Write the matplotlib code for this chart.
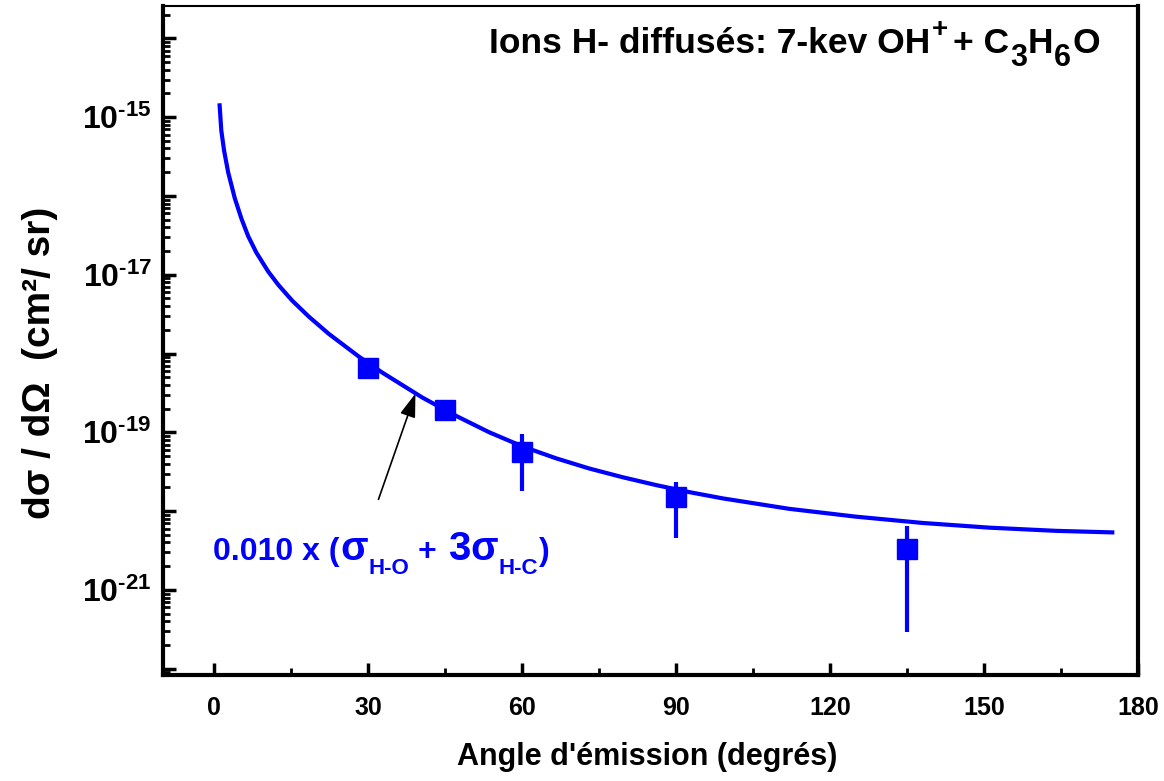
import numpy as np
import matplotlib
matplotlib.use("Agg")
import matplotlib.pyplot as plt
import matplotlib.transforms as mtransforms
from matplotlib.ticker import FixedLocator, NullFormatter, FuncFormatter

plt.rcParams['font.family'] = ['Liberation Sans', 'DejaVu Sans']
plt.rcParams['font.weight'] = 'bold'
plt.rcParams['mathtext.fontset'] = 'custom'
plt.rcParams['mathtext.rm'] = 'Liberation Sans:bold'
plt.rcParams['mathtext.bf'] = 'Liberation Sans:bold'
plt.rcParams['mathtext.it'] = 'Liberation Sans:bold'
plt.rcParams['mathtext.sf'] = 'Liberation Sans:bold'

# measured points (H- ions scattered)
angles = [30, 45, 60, 90, 135]
dsig = [6.6e-19, 1.9e-19, 5.6e-20, 1.5e-20, 3.3e-21]
err_low = [6.6e-19, 1.9e-19, 1.78e-20, 4.6e-21, 2.95e-22]
err_high = [6.6e-19, 1.9e-19, 9.5e-20, 2.35e-20, 6.4e-21]

# theory curve 0.010 x (sigma_H-O + 3 sigma_H-C)
curve_x = [1.04, 1.37, 1.9, 2.7, 4.0, 5.3, 6.6, 8.2, 10.5, 12.5, 15.2, 18.4,
           22.3, 28.2, 32.7, 40.6, 47.1, 53.6, 60.1, 66.6, 73.1, 79.6, 86.1,
           92.6, 99.1, 112, 125, 138, 151, 164, 175]
curve_y = [1.41e-15, 6.76e-16, 3.80e-16, 2.00e-16, 9.33e-17, 5.13e-17,
           3.09e-17, 1.91e-17, 1.10e-17, 7.41e-18, 4.68e-18, 2.95e-18,
           1.78e-18, 9.12e-19, 5.75e-19, 2.75e-19, 1.62e-19, 1.00e-19,
           6.61e-20, 4.68e-20, 3.47e-20, 2.69e-20, 2.14e-20, 1.74e-20,
           1.45e-20, 1.07e-20, 8.51e-21, 7.08e-21, 6.17e-21, 5.62e-21,
           5.37e-21]

xticks = [0, 30, 60, 90, 120, 150, 180]
decades = [1e-22, 1e-21, 1e-20, 1e-19, 1e-18, 1e-17, 1e-16, 1e-15, 1e-14]
blue = '#0000ff'

fig = plt.figure(figsize=(11.64, 7.81), dpi=100)
ax = fig.add_axes([0.140, 0.1357, 0.8376, 0.8566])

ax.plot(curve_x, curve_y, color=blue, lw=3, solid_joinstyle='round')
yerr = [np.array(dsig) - np.array(err_low), np.array(err_high) - np.array(dsig)]
ax.errorbar(angles, dsig, yerr=yerr, fmt='s', color=blue, ms=14,
            elinewidth=3, capsize=0)

ax.set_yscale('log')
ax.set_xlim(-10, 180)
ax.set_ylim(10**-22.08, 10**-13.59)

ax.xaxis.set_major_locator(FixedLocator(xticks))
ax.xaxis.set_minor_locator(FixedLocator([15, 45, 75, 105, 135, 165]))
ax.yaxis.set_major_locator(FixedLocator(decades))
minors = [m * d for d in [1e-23] + decades for m in range(2, 10)]
minors = [v for v in minors if 10**-22.08 < v < 10**-13.59]
ax.yaxis.set_minor_locator(FixedLocator(minors))
ax.yaxis.set_minor_formatter(NullFormatter())


def ylab(v, pos):
    e = int(round(np.log10(v)))
    if e % 2 == 0:
        return ''
    return r'$\mathbf{10^{\text{%d}}}$' % e


ax.yaxis.set_major_formatter(FuncFormatter(ylab))
ax.tick_params(axis='y', which='major', direction='in', length=9, width=2.5,
               labelsize=23, pad=8, right=False)
ax.tick_params(axis='y', which='minor', direction='in', length=5, width=2)
ax.tick_params(axis='x', which='major', direction='in', length=9, width=2.5,
               labelsize=18, pad=15, top=False)
ax.tick_params(axis='x', which='minor', direction='in', length=5, width=2)
for lab in ax.get_xticklabels():
    lab.set_fontweight('bold')

for s in ['left', 'bottom', 'right']:
    ax.spines[s].set_linewidth(3)
ax.spines['top'].set_linewidth(1.5)

ax.set_xlabel("Angle d'émission (degrés)", fontsize=22, fontweight='bold')
ax.xaxis.set_label_coords(0.497, -0.100)
ax.xaxis.label.set_va('top')
ax.set_ylabel('dσ / dΩ  (cm²/ sr)', fontsize=28, fontweight='bold')
ax.yaxis.set_label_coords(-0.108, 0.466)

renderer = fig.canvas.get_renderer()


def chain(x0, y0, pieces, color, right=False):
    # pieces: (text, fontsize, dy in px, gap before in px)
    widths = []
    for s, size, dy, gap in pieces:
        t = ax.text(0, 0, s, fontsize=size, fontweight='bold')
        widths.append(t.get_window_extent(renderer).width)
        t.remove()
    total = sum(widths) + sum(p[3] for p in pieces)
    dx = -total if right else 0
    for (s, size, dy, gap), w in zip(pieces, widths):
        dx += gap
        tr = mtransforms.offset_copy(ax.transAxes, fig=fig, x=dx, y=dy, units='dots')
        ax.text(x0, y0, s, transform=tr, fontsize=size, fontweight='bold',
                color=color, ha='left', va='baseline')
        dx += w


title_parts = [('Ions H- diffusés: 7-kev OH', 25.5, 0, 0), ('+', 20, 16, 1),
               ('+ C', 25.5, 0, 5), ('3', 22, -13, 1), ('H', 25.5, 0, 1),
               ('6', 22, -13, 1), ('O', 25.5, 0, 1)]
chain(0.961, 0.930, title_parts, 'black', right=True)

formula_parts = [('0.010 x (', 23, 0, 0), ('σ', 29, 0, 1), ('H-O', 16, -14, 0),
                 ('+', 23, 0, 9), ('3', 29, 0, 12), ('σ', 29, 0, 0),
                 ('H-C', 16, -14, 0), (')', 23, 0, 1)]
chain(0.0513, 0.172, formula_parts, blue)

ax.annotate('', xy=(39.2, 3.1e-19), xytext=(32.0, 1.41e-20),
            arrowprops=dict(arrowstyle='-|>,head_length=0.9,head_width=0.3',
                            color='black', lw=1.2, mutation_scale=16,
                            shrinkA=0, shrinkB=0))

fig.savefig('out.png', dpi=100)
